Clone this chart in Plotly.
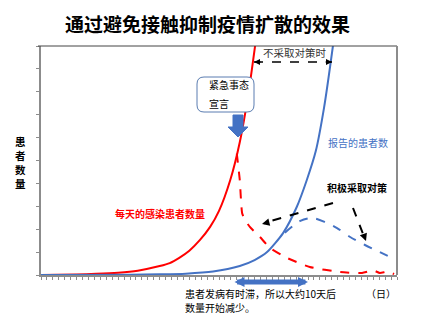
import plotly.graph_objects as go

# ---- data (days since start, relative number of patients) ----
red_days = [0, 6, 9.3, 13, 16.3, 20, 21.7, 23.3, 25, 26.8, 28.5, 30, 31.9, 33.5, 35, 36.6]
red_vals = [0, 0.25, 0.5, 1.0, 1.9, 3.9, 5.2, 7.5, 10.6, 15.3, 21, 28, 41.5, 58, 80, 110]

blue_days = [0, 15, 20, 24.4, 29, 33.5, 36, 38.1, 40.8, 43.1, 44.8, 46.3, 47.7, 49.2, 49.8]
blue_vals = [0, 0.1, 0.3, 0.6, 1.5, 3.9, 6.5, 10, 18.3, 29.7, 41.5, 54, 73, 100, 112]

red_dash_days = [33.0, 33.5, 33.9, 34.4, 35.2, 36.9, 38.6, 41.5, 45.3, 50.4, 54.1, 56, 57.1, 58.5, 59.5]
red_dash_vals = [53, 41.5, 27, 24, 21, 16.6, 11.8, 7.4, 3.5, 1.3, 0.9, 2.0, 0.9, 1.5, 0.4]

blue_dash_days = [41.1, 43.7, 45.7, 47.9, 49.9, 52.1, 54.6, 57.1, 59.5]
blue_dash_vals = [18.5, 23.6, 24.9, 23.1, 20.5, 16.6, 13.1, 10, 7]

x_range = [0, 60]
y_range = [0, 100]

RED = "#FF0000"
BLUE = "#4472C4"
FONT = "Noto Sans CJK SC"

# plot area in pixels
W, H = 432, 324
L, R, T, B = 41, 397, 46, 275


def X(px):
    return (px - L) / (R - L)


def Y(py):
    return (B - py) / (B - T)


fig = go.Figure()
fig.add_trace(go.Scatter(x=red_days, y=red_vals, mode="lines",
                         line=dict(color=RED, width=2, shape="spline", smoothing=0.6)))
fig.add_trace(go.Scatter(x=blue_days, y=blue_vals, mode="lines",
                         line=dict(color=BLUE, width=2, shape="spline", smoothing=0.6)))
fig.add_trace(go.Scatter(x=red_dash_days, y=red_dash_vals, mode="lines",
                         line=dict(color=RED, width=2, dash="dash", shape="spline", smoothing=0.5)))
fig.add_trace(go.Scatter(x=blue_dash_days, y=blue_dash_vals, mode="lines",
                         line=dict(color=BLUE, width=2, dash="dash", shape="spline", smoothing=0.8)))

shapes = []
# top and right frame
shapes.append(dict(type="line", xref="paper", yref="paper", x0=X(38), x1=X(397), y0=1, y1=1,
                   line=dict(color="#444444", width=1)))
shapes.append(dict(type="line", xref="paper", yref="paper", x0=1, x1=1, y0=0, y1=1,
                   line=dict(color="#8c8c8c", width=2)))

# rounded box
bx0, bx1, by0, by1, r = X(197), X(254), Y(112), Y(77), 7
rx, ry = r / (R - L), r / (B - T)
box_path = (f"M {bx0+rx},{by0} L {bx1-rx},{by0} Q {bx1},{by0} {bx1},{by0+ry} "
            f"L {bx1},{by1-ry} Q {bx1},{by1} {bx1-rx},{by1} L {bx0+rx},{by1} "
            f"Q {bx0},{by1} {bx0},{by1-ry} L {bx0},{by0+ry} Q {bx0},{by0} {bx0+rx},{by0} Z")
shapes.append(dict(type="path", xref="paper", yref="paper", path=box_path,
                   fillcolor="white", line=dict(color="#5B7DB1", width=1)))

# block arrow pointing down
pts = [(233, 115), (243, 115), (243, 127), (248, 127), (238, 137), (228, 127), (233, 127)]
arrow_path = "M " + " L ".join(f"{X(a)},{Y(b)}" for a, b in pts) + " Z"
shapes.append(dict(type="path", xref="paper", yref="paper", path=arrow_path,
                   fillcolor=BLUE, line=dict(color=BLUE, width=1)))

# dashed lines
dashed = [((254, 62), (332, 62), 1.5), ((333, 203), (264, 223), 2), ((353, 208), (365, 239), 2)]
for (a, b), (c, d), w in dashed:
    shapes.append(dict(type="line", xref="paper", yref="paper", x0=X(a), y0=Y(b), x1=X(c), y1=Y(d),
                       line=dict(color="black", width=w, dash="dash")))

annotations = []


def text(px, py, s, size=10, color="black", bold=False, xanchor="center", align="center", pad=1):
    if bold:
        s = f"<b>{s}</b>"
    annotations.append(dict(x=X(px), y=Y(py), xref="paper", yref="paper", text=s, showarrow=False,
                            xanchor=xanchor, yanchor="middle", align=align, borderpad=pad,
                            font=dict(family=FONT, size=size, color=color)))


def head(tx, ty, fx, fy, size=1.0, width=1.5, color="black"):
    # short arrow whose head sits at (tx, ty), coming from direction (fx, fy)
    annotations.append(dict(x=X(tx), y=Y(ty), xref="paper", yref="paper", text="",
                            showarrow=True, ax=fx - tx, ay=fy - ty, axref="pixel", ayref="pixel",
                            arrowhead=2, arrowsize=size, arrowwidth=width, arrowcolor=color))


text(207, 23, "通过避免接触抑制疫情扩散的效果", size=19, bold=True)
text(295, 53, "不采取对策时", size=10.5, color="#333333")
text(207, 85, "紧急事态", size=10, xanchor="left", align="left")
text(207, 103, "宣言", size=10, xanchor="left", align="left")
# vertical axis caption, one character per row
for ch, cy in zip("患者数量", [141, 155, 169, 183]):
    text(20, cy, ch, size=10.5, bold=True, pad=0)
text(358, 142, "报告的患者数", size=10, color=BLUE)
text(160, 213, "每天的感染患者数量", size=10, color=RED, bold=True)
text(357, 187, "积极采取对策", size=10, bold=True)
text(184, 293, "患者发病有时滞，所以大约10天后", size=10, xanchor="left", align="left", pad=0)
text(184, 307, "数量开始减少。", size=10, xanchor="left", align="left", pad=0)
text(381, 293, "（日）", size=10)

head(254, 62, 262, 62, width=1.2)
head(332, 62, 324, 62, width=1.2)
head(262, 224, 270, 222)
head(366, 241, 363, 233)

# thick double arrow under the axis
annotations.append(dict(x=X(308), y=Y(282), ax=233 - 308, ay=0, xref="paper", yref="paper",
                        axref="pixel", ayref="pixel", text="", showarrow=True,
                        arrowside="end+start", arrowhead=2, arrowsize=0.4, arrowwidth=5,
                        arrowcolor=BLUE))

fig.update_layout(
    width=W, height=H,
    margin=dict(l=L, r=W - R, t=T, b=H - B),
    paper_bgcolor="white", plot_bgcolor="white",
    showlegend=False,
    shapes=shapes, annotations=annotations,
    font=dict(family=FONT),
)
fig.update_xaxes(range=x_range, showgrid=False, zeroline=False, showticklabels=False,
                 showline=True, linecolor="#8c8c8c", linewidth=2,
                 ticks="outside", ticklen=3, tickwidth=1, tickcolor="#8c8c8c", dtick=1, tick0=0)
fig.update_yaxes(range=y_range, showgrid=False, zeroline=False, showticklabels=False,
                 showline=True, linecolor="#8c8c8c", linewidth=2,
                 ticks="outside", ticklen=3, tickwidth=1, tickcolor="#8c8c8c", dtick=10, tick0=0)

fig.write_html("out.html")
